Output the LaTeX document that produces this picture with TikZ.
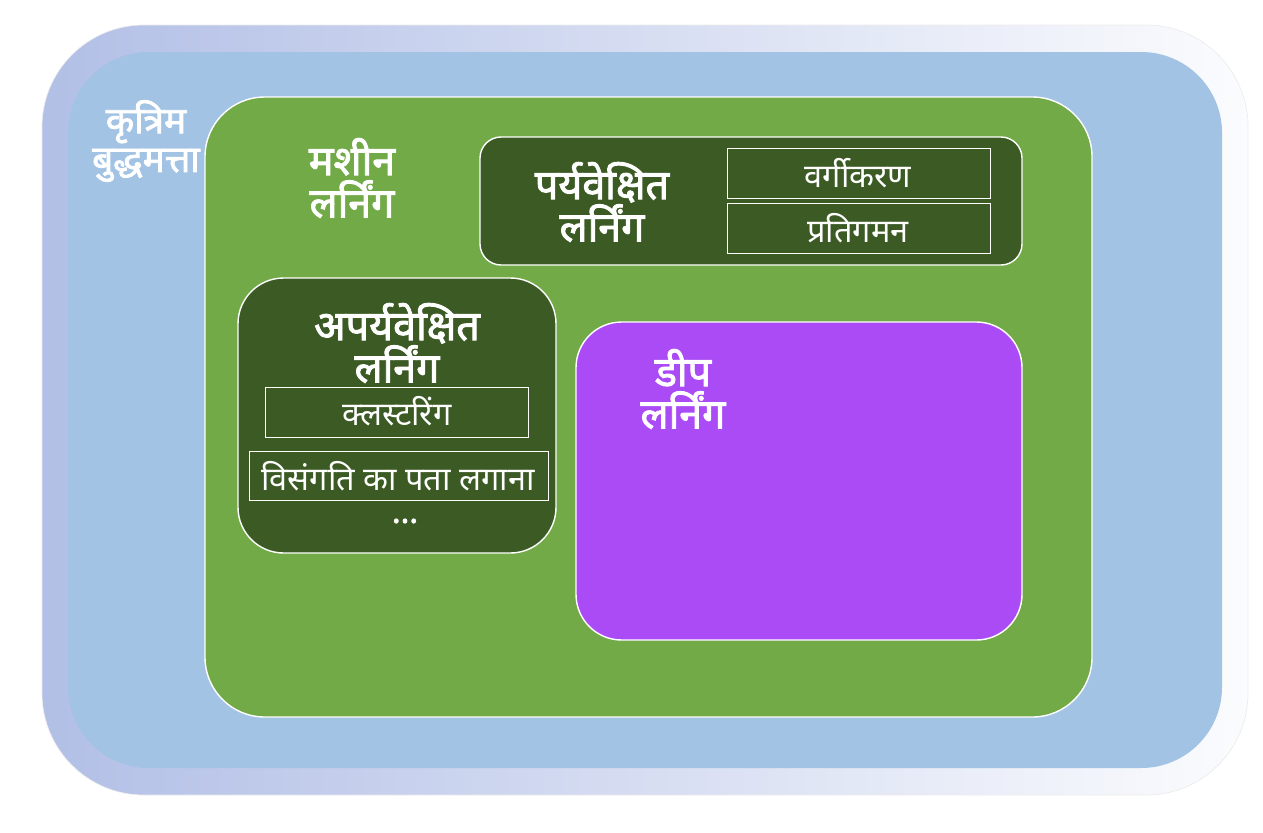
\documentclass[tikz,border=0pt]{standalone}
\usepackage{fontspec}
\newfontfamily\hindi[Script=Devanagari]{Noto Sans}
\newfontfamily\hindibf[Script=Devanagari,FakeBold=2.2]{Noto Sans}
\usepackage{tikz}
\definecolor{frameblue}{HTML}{B2BFE6}
\definecolor{skyblue}{HTML}{A2C3E3}
\definecolor{leafgreen}{HTML}{71AA46}
\definecolor{darkgreen}{HTML}{3B5A24}
\definecolor{deeppurple}{HTML}{AA4BF6}

\begin{document}
\begin{tikzpicture}[x=0.02cm,y=-0.02cm,
		title/.style={text=white,font=\hindibf\fontsize{23.5}{24}\selectfont,align=center},
		item/.style={text=white,font=\hindi\fontsize{18.5}{20}\selectfont},
		itembox/.style={draw=white,thin}]

			\useasboundingbox (0,0) rectangle (1263,832);

			% layers, outside in
			\draw[gray!15, rounded corners=58pt, left color=frameblue, right color=white!95!frameblue] (42,25) rectangle (1248,795);
			\fill[skyblue, rounded corners=46pt] (68,52) rectangle (1222,768);
			\draw[white, thick, fill=leafgreen, rounded corners=34pt] (205,97) rectangle (1092,717);
			\draw[white, thick, fill=darkgreen, rounded corners=12pt] (480,137) rectangle (1022,265);
			\draw[white, thick, fill=darkgreen, rounded corners=26pt] (238,278) rectangle (556,553);
			\draw[white, thick, fill=deeppurple, rounded corners=26pt] (576,322) rectangle (1022,640);

			% item boxes
			\draw[itembox] (727,148) rectangle (990,198);
			\draw[itembox] (727,203) rectangle (990,253);
			\draw[itembox] (265,387) rectangle (528,437);
			\draw[itembox] (249,451) rectangle (548,500);

			\node[title, font=\hindibf\fontsize{21}{22}\selectfont] (ai) at (146,141) {कृत्रिम\\बुद्धमत्ता};
			\node[title] (ml) at (352,178) {मशीन\\लर्निंग};
			\node[title] (sl) at (602,202) {पर्यवेक्षित\\लर्निंग};
			\node[title] (ul) at (397,343) {अपर्यवेक्षित\\लर्निंग};
			\node[title] (dl) at (683,389) {डीप\\लर्निंग};

			\node[item] (cls) at (858,173) {वर्गीकरण};
			\node[item] (reg) at (858,228) {प्रतिगमन};
			\node[item] (clu) at (397,411) {क्लस्टरिंग};
			\node[item] (ano) at (398,476) {विसंगति का पता लगाना};
			\node[item, inner sep=0pt, font=\hindibf\fontsize{18.5}{20}\selectfont] (more) at (405,521) {...};
		\end{tikzpicture}
\end{document}
